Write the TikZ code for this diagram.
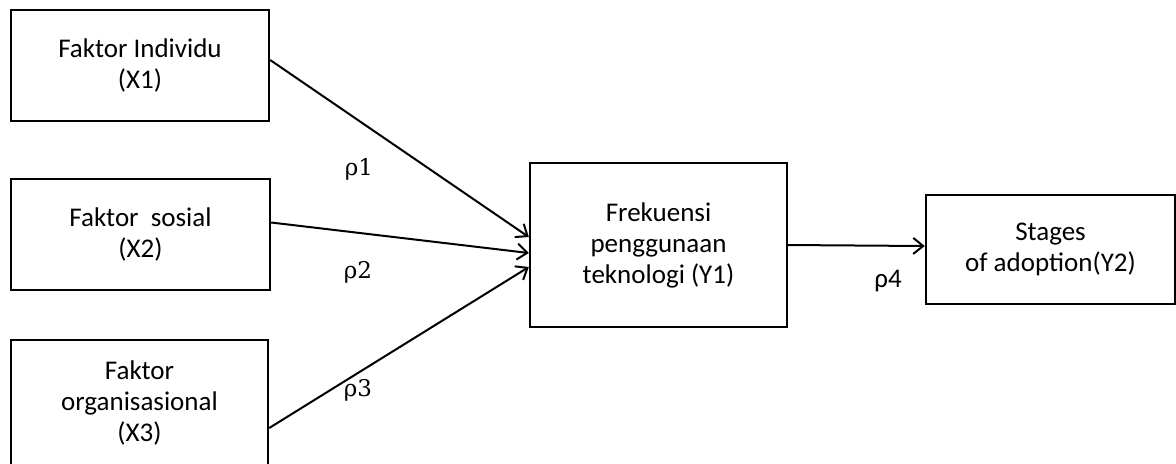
\documentclass[tikz,border=0pt]{standalone}
\usepackage{fontspec}
\setmainfont{Carlito}
\newfontfamily\rhofont{DejaVu Serif}
\usetikzlibrary{arrows.meta}

\begin{document}
\begin{tikzpicture}[
		x=0.5pt, y=-0.5pt,
		factor/.style={draw, line width=1.2pt, align=center, inner sep=0pt, font=\fontsize{13.5}{15.5}\selectfont},
		link/.style={line width=1pt, -{Straight Barb[length=5pt, width=8pt]}},
		coef/.style={font=\rhofont\fontsize{11.5}{13}\selectfont}
	]

	\useasboundingbox (0, 0) rectangle (1176, 463);

	% Boxes
	\node[factor, minimum width=129pt, minimum height=55.5pt] (x1) at (140, 65.5) {Faktor Individu\\(X1)};
	\node[factor, minimum width=129.5pt, minimum height=55.5pt] (x2) at (140.5, 234.5) {Faktor\ \ sosial\\(X2)};
	\node[factor, minimum width=128.5pt, minimum height=63pt] (x3) at (139.5, 403) {Faktor\\organisasional\\(X3)};
	\node[factor, minimum width=128.5pt, minimum height=82pt] (y1) at (658.5, 245) {Frekuensi\\penggunaan\\teknologi (Y1)};
	\node[factor, minimum width=124.5pt, minimum height=54.5pt] (y2) at (1050.5, 249.5) {Stages\\of adoption(Y2)};

	% Arrows
	\draw[link] ([yshift=2.75pt]x1.east) -- ([yshift=4pt]y1.west);
	\draw[link] ([yshift=6pt]x2.east) -- ([yshift=-4pt]y1.west);
	\draw[link] ([yshift=-12.5pt]x3.east) -- ([yshift=-11pt]y1.west);
	\draw[link] (y1.east) -- ([yshift=1.75pt]y2.west);

	% Coefficients
	\node[coef] (r1) at (359, 169) {ρ1};
	\node[coef] (r2) at (358, 272) {ρ2};
	\node[coef] (r3) at (358, 390) {ρ3};
	\node[font=\fontsize{13.5}{15.5}\selectfont] (r4) at (888, 281) {ρ4};

\end{tikzpicture}
\end{document}
